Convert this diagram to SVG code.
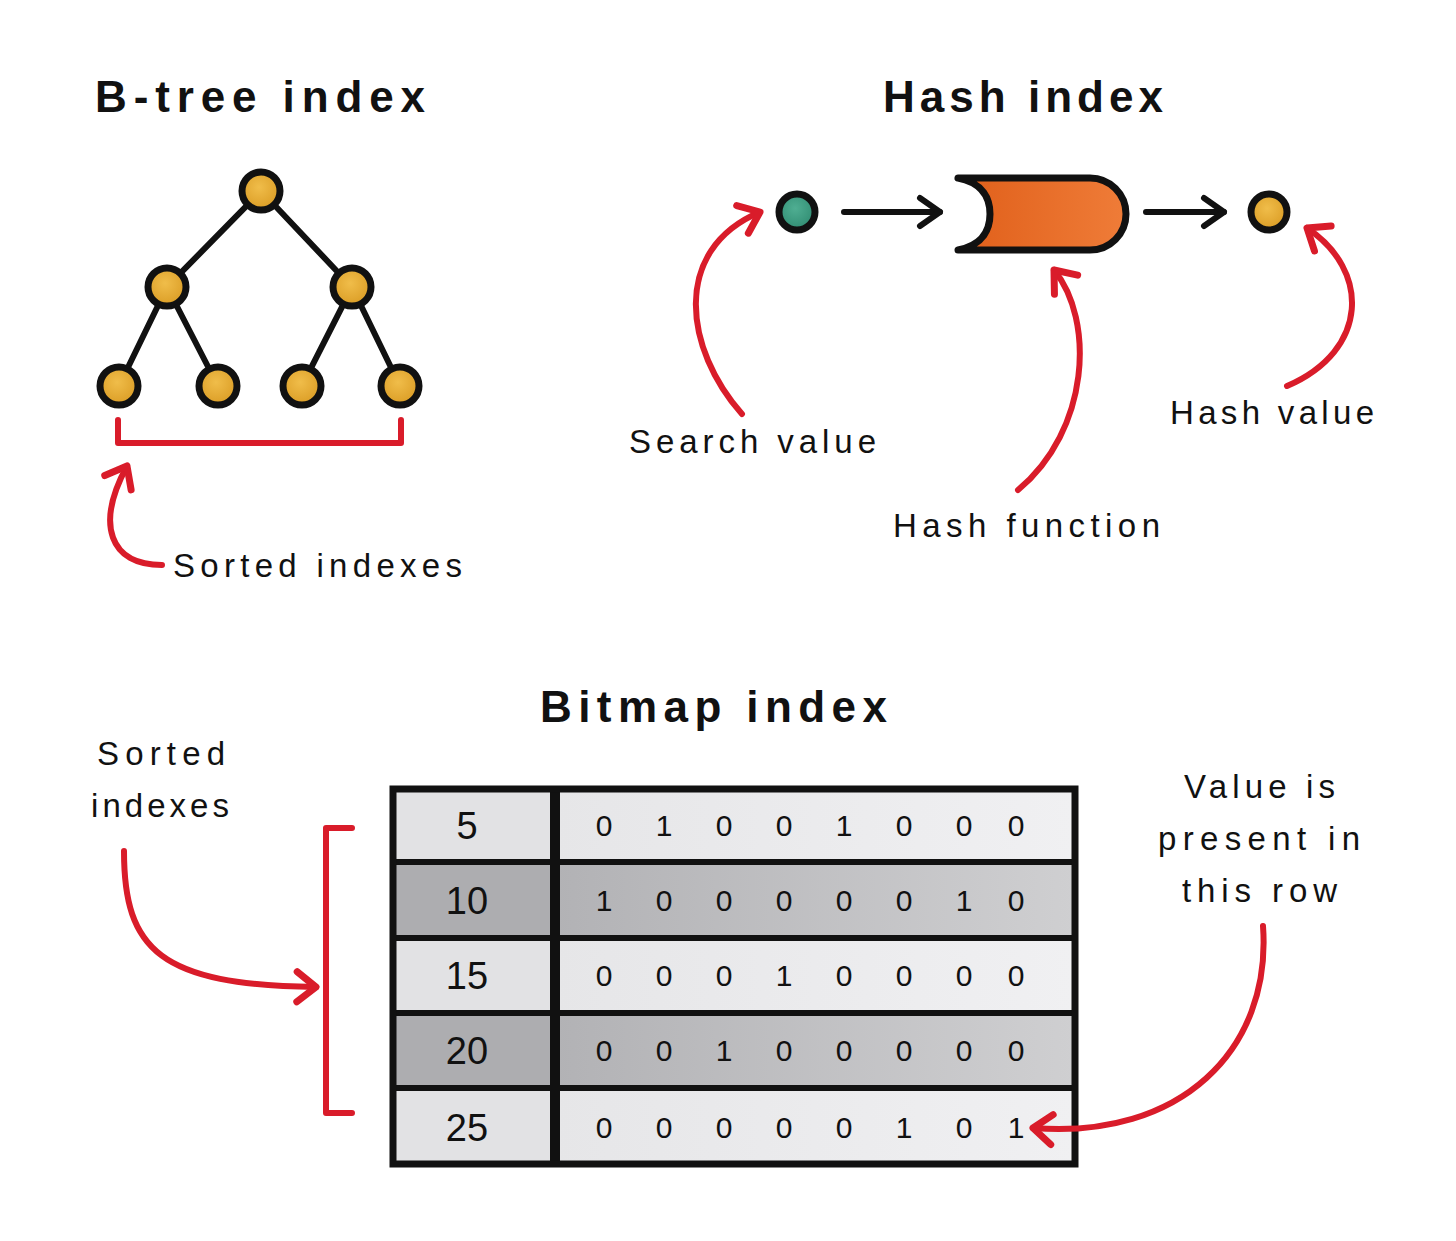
<svg xmlns="http://www.w3.org/2000/svg" width="1456" height="1241" viewBox="0 0 1456 1241">
<defs>
<radialGradient id="gold" cx="45%" cy="40%" r="65%"><stop offset="0" stop-color="#f0bd4a"/><stop offset="1" stop-color="#d99a22"/></radialGradient>
<radialGradient id="teal" cx="45%" cy="40%" r="65%"><stop offset="0" stop-color="#4fae92"/><stop offset="1" stop-color="#2e8a70"/></radialGradient>
<linearGradient id="orange" x1="0" y1="0" x2="1" y2="0"><stop offset="0" stop-color="#e05f1a"/><stop offset="1" stop-color="#ef7c38"/></linearGradient>
<linearGradient id="darkrow" x1="0" y1="0" x2="1" y2="0"><stop offset="0" stop-color="#b2b2b5"/><stop offset="1" stop-color="#cfcfd1"/></linearGradient>
<linearGradient id="lightrow" x1="0" y1="0" x2="1" y2="0"><stop offset="0" stop-color="#e6e6e8"/><stop offset="1" stop-color="#f0f0f2"/></linearGradient>
<marker id="redhead" markerUnits="userSpaceOnUse" markerWidth="44" markerHeight="44" refX="0" refY="0" viewBox="-24 -22 32 44" orient="auto" overflow="visible">
<path d="M-19,-15 L0,0 L-19,15" fill="none" stroke="#d91c2a" stroke-width="7" stroke-linecap="round" stroke-linejoin="round"/>
</marker>
<marker id="blackhead" markerUnits="userSpaceOnUse" markerWidth="40" markerHeight="40" refX="0" refY="0" viewBox="-22 -20 30 40" orient="auto" overflow="visible">
<path d="M-20,-14 L0,0 L-20,14" fill="none" stroke="#111" stroke-width="6" stroke-linecap="round" stroke-linejoin="round"/>
</marker>
</defs>
<style>
.title{font-family:"Liberation Sans",Arial,sans-serif;font-weight:bold;font-size:44px;fill:#111}
.lbl{font-family:"Liberation Sans",Arial,sans-serif;font-size:33px;fill:#111}
.num{font-family:"Liberation Sans",Arial,sans-serif;font-size:38px;fill:#111;text-anchor:middle}
.bit{font-family:"Liberation Sans",Arial,sans-serif;font-size:30px;fill:#111;text-anchor:middle}
.edge{stroke:#111;stroke-width:6;fill:none;stroke-linecap:round}
.red{stroke:#d91c2a;stroke-width:6;fill:none;stroke-linecap:round;stroke-linejoin:round}
.node{stroke:#111;stroke-width:7}
.grid{stroke:#111;fill:none}
</style>
<rect width="1456" height="1241" fill="#fff"/>

<text class="title" x="95" y="112" textLength="330" lengthAdjust="spacing">B-tree index</text>
<text class="title" x="883" y="112" textLength="280" lengthAdjust="spacing">Hash index</text>
<text class="title" x="540" y="722" textLength="347" lengthAdjust="spacing">Bitmap index</text>

<g id="btree-root"><circle class="node" cx="261" cy="191" r="19" fill="url(#gold)"/></g>
<g id="btree-left"><circle class="node" cx="167" cy="287" r="19" fill="url(#gold)"/></g>
<g id="btree-right"><circle class="node" cx="352" cy="287" r="19" fill="url(#gold)"/></g>
<g id="btree-leaf1"><circle class="node" cx="119" cy="386" r="19" fill="url(#gold)"/></g>
<g id="btree-leaf2"><circle class="node" cx="218" cy="386" r="19" fill="url(#gold)"/></g>
<g id="btree-leaf3"><circle class="node" cx="302" cy="386" r="19" fill="url(#gold)"/></g>
<g id="btree-leaf4"><circle class="node" cx="400" cy="386" r="19" fill="url(#gold)"/></g>

<g id="search-value"><circle class="node" cx="797" cy="212" r="18" fill="url(#teal)"/></g>
<g id="hash-function"><path d="M958,178 L1090,178 A36,36 0 0 1 1090,250 L958,250 C984,245 990,228 990,214 C990,200 984,183 958,178 Z" fill="url(#orange)" stroke="#111" stroke-width="7" stroke-linejoin="round"/></g>
<g id="hash-value"><circle class="node" cx="1269" cy="212" r="18" fill="url(#gold)"/></g>

<text class="lbl" x="173" y="577" textLength="289" lengthAdjust="spacing">Sorted indexes</text>
<text class="lbl" x="629" y="453" textLength="247" lengthAdjust="spacing">Search value</text>
<text class="lbl" x="893" y="537" textLength="267" lengthAdjust="spacing">Hash function</text>
<text class="lbl" x="1170" y="424" textLength="204" lengthAdjust="spacing">Hash value</text>
<text class="lbl" x="97" y="765" textLength="128" lengthAdjust="spacing">Sorted</text>
<text class="lbl" x="91" y="817" textLength="138" lengthAdjust="spacing">indexes</text>
<text class="lbl" x="1184" y="798" textLength="151" lengthAdjust="spacing">Value is</text>
<text class="lbl" x="1158" y="850" textLength="202" lengthAdjust="spacing">present in</text>
<text class="lbl" x="1182" y="902" textLength="155" lengthAdjust="spacing">this row</text>

<g id="bitmap-table">
<rect x="393" y="789" width="162" height="73" fill="#e2e2e4"/>
<rect x="555" y="789" width="520" height="73" fill="url(#lightrow)"/>
<rect x="393" y="862" width="162" height="76" fill="#adadb0"/>
<rect x="555" y="862" width="520" height="76" fill="url(#darkrow)"/>
<rect x="393" y="938" width="162" height="75" fill="#e2e2e4"/>
<rect x="555" y="938" width="520" height="75" fill="url(#lightrow)"/>
<rect x="393" y="1013" width="162" height="75" fill="#adadb0"/>
<rect x="555" y="1013" width="520" height="75" fill="url(#darkrow)"/>
<rect x="393" y="1088" width="162" height="76" fill="#e2e2e4"/>
<rect x="555" y="1088" width="520" height="76" fill="url(#lightrow)"/>
<line class="grid" x1="393" y1="862" x2="1075" y2="862" stroke-width="6"/>
<line class="grid" x1="393" y1="938" x2="1075" y2="938" stroke-width="6"/>
<line class="grid" x1="393" y1="1013" x2="1075" y2="1013" stroke-width="6"/>
<line class="grid" x1="393" y1="1088" x2="1075" y2="1088" stroke-width="6"/>
<line class="grid" x1="555" y1="789" x2="555" y2="1164" stroke-width="10"/>
<rect class="grid" x="393" y="789" width="682" height="375" stroke-width="7"/>

<text class="num" x="467" y="839">5</text>
<text class="num" x="467" y="914">10</text>
<text class="num" x="467" y="989">15</text>
<text class="num" x="467" y="1064">20</text>
<text class="num" x="467" y="1141">25</text>

<text class="bit" x="604" y="836">0</text><text class="bit" x="664" y="836">1</text><text class="bit" x="724" y="836">0</text><text class="bit" x="784" y="836">0</text><text class="bit" x="844" y="836">1</text><text class="bit" x="904" y="836">0</text><text class="bit" x="964" y="836">0</text><text class="bit" x="1016" y="836">0</text>
<text class="bit" x="604" y="911">1</text><text class="bit" x="664" y="911">0</text><text class="bit" x="724" y="911">0</text><text class="bit" x="784" y="911">0</text><text class="bit" x="844" y="911">0</text><text class="bit" x="904" y="911">0</text><text class="bit" x="964" y="911">1</text><text class="bit" x="1016" y="911">0</text>
<text class="bit" x="604" y="986">0</text><text class="bit" x="664" y="986">0</text><text class="bit" x="724" y="986">0</text><text class="bit" x="784" y="986">1</text><text class="bit" x="844" y="986">0</text><text class="bit" x="904" y="986">0</text><text class="bit" x="964" y="986">0</text><text class="bit" x="1016" y="986">0</text>
<text class="bit" x="604" y="1061">0</text><text class="bit" x="664" y="1061">0</text><text class="bit" x="724" y="1061">1</text><text class="bit" x="784" y="1061">0</text><text class="bit" x="844" y="1061">0</text><text class="bit" x="904" y="1061">0</text><text class="bit" x="964" y="1061">0</text><text class="bit" x="1016" y="1061">0</text>
<text class="bit" x="604" y="1138">0</text><text class="bit" x="664" y="1138">0</text><text class="bit" x="724" y="1138">0</text><text class="bit" x="784" y="1138">0</text><text class="bit" x="844" y="1138">0</text><text class="bit" x="904" y="1138">1</text><text class="bit" x="964" y="1138">0</text><text class="bit" x="1016" y="1138">1</text>
</g>

<g id="connectors">
<line class="edge" x1="245.3" y1="207.1" x2="182.7" y2="270.9"/>
<line class="edge" x1="276.5" y1="207.3" x2="336.5" y2="270.7"/>
<line class="edge" x1="157.2" y1="307.3" x2="128.8" y2="365.7"/>
<line class="edge" x1="177.3" y1="307" x2="207.7" y2="366"/>
<line class="edge" x1="341.9" y1="307.1" x2="312.1" y2="365.9"/>
<line class="edge" x1="361.8" y1="307.3" x2="390.2" y2="365.7"/>
<path class="red" d="M118,420 L118,443 L401,443 L401,420"/>
<path class="red" d="M162,565 C110,565 95,525 127,466" marker-end="url(#redhead)"/>
<path class="edge" d="M844,212 L940,212" marker-end="url(#blackhead)"/>
<path class="edge" d="M1146,212 L1224,212" marker-end="url(#blackhead)"/>
<path class="red" d="M742,414 C685,350 670,250 760,212" marker-end="url(#redhead)"/>
<path class="red" d="M1018,490 C1090,430 1095,320 1054,270" marker-end="url(#redhead)"/>
<path class="red" d="M1287,386 C1370,350 1370,270 1307,228" marker-end="url(#redhead)"/>
<path class="red" d="M352,828 L326,828 L326,1113 L352,1113"/>
<path class="red" d="M124,851 C124,950 160,985 316,987" marker-end="url(#redhead)"/>
<path class="red" d="M1263,926 C1272,1050 1180,1140 1033,1128" marker-end="url(#redhead)"/>
</g>
</svg>
